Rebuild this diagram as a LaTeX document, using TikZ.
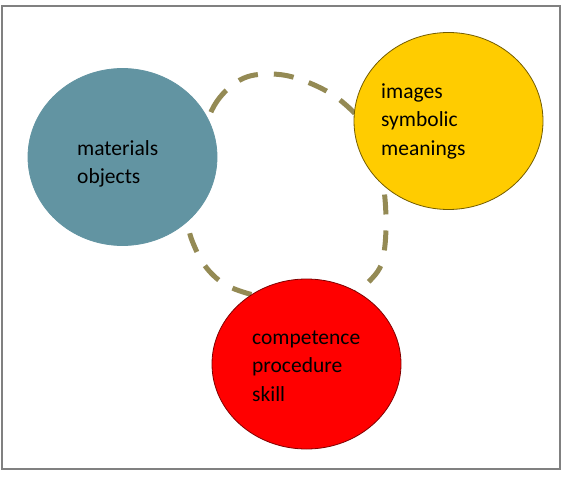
\documentclass[tikz,border=0pt]{standalone}
\usepackage{fontspec}
\setmainfont{Carlito}
\usetikzlibrary{shapes.geometric}
\definecolor{bluegray}{RGB}{98,148,162}
\definecolor{gold}{RGB}{255,204,0}
\definecolor{olive}{RGB}{148,138,84}
\definecolor{frame}{RGB}{128,128,128}
\tikzset{
  blob/.style={ellipse, minimum width=189pt, minimum height=177pt, inner sep=0pt, line width=0.8pt},
  label/.style={anchor=west, align=left, inner sep=0pt, font=\fontsize{21.5}{28.5}\selectfont, text=black},
  loop/.style={draw=olive, line width=5pt, dash pattern=on 20pt off 16pt},
}
\begin{document}
\begin{tikzpicture}[x=1pt,y=-1pt]
\useasboundingbox (0,0) rectangle (567,478);
\draw[frame, line width=1.5pt] (2,6) rectangle (560,469);
% dashed loop behind the circles
\draw[loop] plot[smooth cycle, tension=0.6] coordinates {
  (200,150) (214,106) (240,80) (270,74) (302,80) (340,100) (370,135)
  (384,190) (385,245) (375,275) (340,300) (290,302) (240,291) (214,276)
  (196,250) (188,215)};
\node[blob, fill=bluegray, draw=bluegray] (blue) at (122.5,157) {};
\node[blob, fill=gold, draw=black!55!gold] (yellow) at (448.5,121) {};
\node[blob, fill=red, minimum height=170pt, draw=black!50!red] (red) at (306.5,364) {};
\node[label] (bluetext) at (77,164) {materials\\objects};
\node[label] (yellowtext) at (381,121) {images\\symbolic\\meanings};
\node[label] (redtext) at (252,366) {competence\\procedure\\skill};
\end{tikzpicture}
\end{document}
